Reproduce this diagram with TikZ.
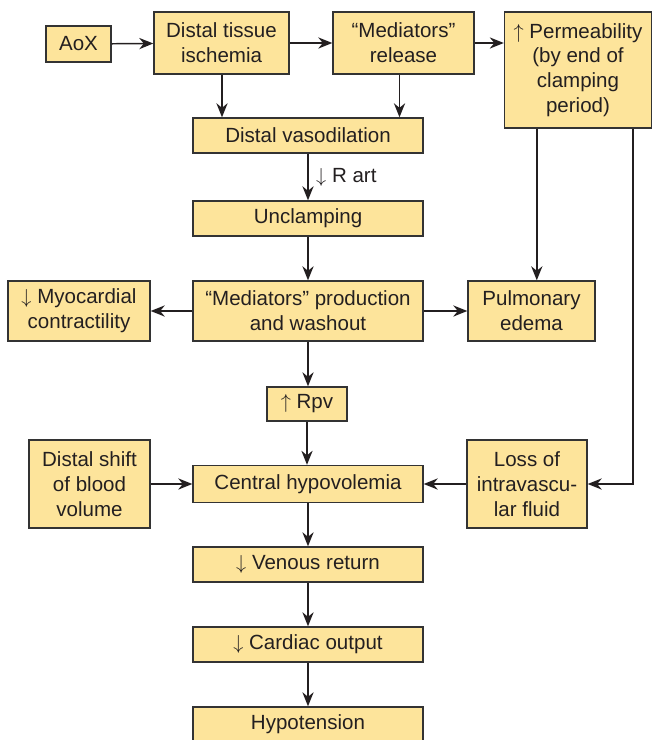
\documentclass[tikz,border=0pt]{standalone}
\usepackage{fontspec}
\setmainfont{Liberation Sans}
\usepackage{tikz}
\usetikzlibrary{arrows.meta,positioning,calc}
\definecolor{boxfill}{HTML}{FDE49B}
\definecolor{boxline}{HTML}{333333}
\definecolor{inktext}{HTML}{231F20}

\begin{document}
\begin{tikzpicture}[
  font=\fontsize{14.6}{17.6}\selectfont,
  >={Stealth[length=10pt,width=8pt]},
  every node/.style={align=center, text=inktext},
  % Boxes
  box/.style={
    rectangle, draw=boxline, fill=boxfill,
    line width=1pt, inner sep=0pt
  },
  wbox/.style={box, minimum width=5.75cm, minimum height=0.875cm},
  % Connectors
  arr/.style={->, draw=inktext, line width=1.05pt},
  link/.style={draw=inktext, line width=1.05pt},
]
\useasboundingbox (0,0) rectangle (16.325,-18.5);

% -------------------------------------------------------
% TOP ROW -- clamping
% -------------------------------------------------------
\node[box, minimum width=1.625cm, minimum height=0.9cm]  (aox)  at (1.9625,-1.1)   {AoX};
\node[box, minimum width=3.375cm, minimum height=1.55cm] (isch) at (5.5375,-1.075) {Distal tissue\\ischemia};
\node[box, minimum width=3.525cm, minimum height=1.55cm] (rel)  at (10.0875,-1.075) {“Mediators”\\release};
\node[box, minimum width=3.675cm, minimum height=2.9cm]  (perm) at (14.45,-1.75)   {$\uparrow$ Permeability\\(by end of\\clamping\\period)};

\draw[arr] (aox) -- (isch);
\draw[arr] (isch) -- (rel);
\draw[arr] (rel.east) -- (rel.east -| perm.west);

% -------------------------------------------------------
% CENTRAL COLUMN
% -------------------------------------------------------
\node[wbox] (vaso)  at (7.7,-3.3875) {Distal vasodilation};
\node[wbox] (uncl)  at (7.7,-5.4625) {Unclamping};
\node[box, minimum width=5.75cm, minimum height=1.5cm] (prod) at (7.7,-7.775) {“Mediators” production\\and washout};
\node[box, minimum width=2.0cm, minimum height=0.85cm] (rpv)  at (7.675,-10.1) {$\uparrow$ Rpv};
\node[box, minimum width=5.75cm, minimum height=0.925cm] (hypv) at (7.7,-12.1) {Central hypovolemia};
\node[wbox] (venr)  at (7.7,-14.1125) {$\downarrow$ Venous return};
\node[wbox] (cout)  at (7.7,-16.1125) {$\downarrow$ Cardiac output};
\node[wbox] (hypo)  at (7.7,-18.1125) {Hypotension};

\draw[arr] ([xshift=0.0125cm]isch.south) -- ([xshift=0.0125cm]isch.south |- vaso.north);
\draw[arr] ([xshift=-0.1cm]rel.south) -- ([xshift=-0.1cm]rel.south |- vaso.north);
\draw[arr] (vaso) -- node[right=2pt]{$\downarrow$ R art} (uncl);
\draw[arr] (uncl) -- (prod);
\draw[arr] (prod.south) -- (prod.south |- rpv.north);
\draw[arr] (rpv.south) -- (rpv.south |- hypv.north);
\draw[arr] (hypv) -- (venr);
\draw[arr] (venr) -- (cout);
\draw[arr] (cout) -- (hypo);

% -------------------------------------------------------
% SIDE BOXES
% -------------------------------------------------------
\node[box, minimum width=3.55cm, minimum height=1.5cm]  (myo)  at (1.975,-7.775)  {$\downarrow$ Myocardial\\contractility};
\node[box, minimum width=3.175cm, minimum height=1.5cm] (pulm) at (13.2875,-7.775) {Pulmonary\\edema};
\node[box, minimum width=3.025cm, minimum height=2.2cm] (shift) at (2.2375,-12.1) {Distal shift\\of blood\\volume};
\node[box, minimum width=3.0cm, minimum height=2.2cm]   (loss)  at (13.175,-12.1) {Loss of\\intravascu-\\lar fluid};

\draw[arr] (prod) -- (myo);
\draw[arr] (prod) -- (pulm);
\draw[arr] (shift) -- (hypv);
\draw[arr] (loss) -- (hypv);

% permeability feeds edema and fluid loss
\draw[arr] ([xshift=0.825cm]perm.south west) -- ([xshift=0.825cm]perm.south west |- pulm.north);
\draw[arr] ([xshift=-0.475cm]perm.south east) |- (loss.east);

\end{tikzpicture}
\end{document}
